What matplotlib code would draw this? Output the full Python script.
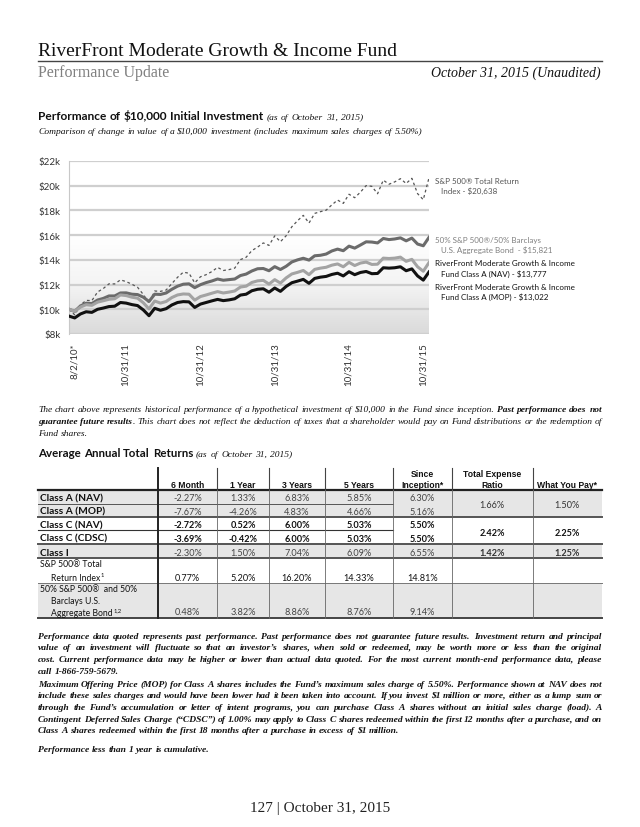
import numpy as np
import matplotlib.pyplot as plt
from matplotlib.colors import LinearSegmentedColormap
from matplotlib.backends.backend_agg import get_hinting_flag

plt.rcParams['text.parse_math'] = False

# growth of $10,000, monthly from 8/2/10 to 10/31/15 (values in $k)
sp500 = [10.00, 9.55, 10.35, 10.72, 10.70, 11.40, 11.68, 12.06, 12.05, 12.38,
         12.24, 12.03, 11.78, 11.20, 10.50, 11.48, 11.45, 11.56, 12.08, 12.59,
         13.00, 12.92, 12.14, 12.63, 12.80, 13.05, 13.39, 13.14, 13.21, 13.33,
         14.02, 14.21, 14.75, 15.03, 15.37, 15.17, 15.94, 15.47, 15.95, 16.68,
         17.17, 17.60, 16.98, 17.76, 17.90, 18.02, 18.45, 18.84, 18.57, 19.31,
         19.03, 19.48, 20.01, 19.95, 19.35, 20.45, 20.12, 20.31, 20.57, 20.18,
         20.60, 19.36, 18.87, 20.64]
blend = [10.00, 9.83, 10.27, 10.49, 10.46, 10.75, 10.88, 11.08, 11.08, 11.32,
         11.33, 11.22, 11.19, 10.98, 10.63, 11.22, 11.20, 11.32, 11.62, 11.87,
         12.03, 12.06, 11.75, 11.99, 12.16, 12.29, 12.45, 12.35, 12.40, 12.45,
         12.73, 12.85, 13.10, 13.28, 13.30, 13.12, 13.45, 13.22, 13.48, 13.83,
         14.00, 14.13, 13.98, 14.33, 14.37, 14.47, 14.72, 14.87, 14.74, 15.11,
         14.95, 15.20, 15.46, 15.44, 15.37, 15.73, 15.64, 15.69, 15.78, 15.54,
         15.76, 15.28, 15.14, 15.82]
fund_nav = [10.00, 9.84, 10.18, 10.37, 10.32, 10.58, 10.69, 10.81, 10.85, 11.16,
            11.11, 10.98, 10.90, 10.53, 10.03, 10.67, 10.50, 10.63, 10.95, 11.16,
            11.24, 11.22, 10.74, 11.03, 11.16, 11.30, 11.43, 11.32, 11.39, 11.48,
            11.80, 11.87, 12.17, 12.30, 12.34, 12.04, 12.40, 12.12, 12.54, 12.86,
            12.99, 13.14, 12.80, 13.23, 13.33, 13.40, 13.57, 13.67, 13.44, 13.80,
            13.54, 13.74, 13.82, 13.63, 13.65, 14.14, 14.11, 14.14, 14.22, 13.88,
            14.04, 13.44, 13.08, 13.78]
fund_mop = [9.45, 9.30, 9.62, 9.80, 9.75, 10.00, 10.10, 10.22, 10.25, 10.55,
            10.50, 10.38, 10.30, 9.95, 9.48, 10.08, 9.92, 10.05, 10.35, 10.55,
            10.62, 10.60, 10.15, 10.42, 10.55, 10.68, 10.80, 10.70, 10.76, 10.85,
            11.15, 11.22, 11.50, 11.62, 11.66, 11.38, 11.72, 11.45, 11.85, 12.15,
            12.28, 12.42, 12.10, 12.50, 12.60, 12.66, 12.82, 12.92, 12.70, 13.04,
            12.80, 12.98, 13.06, 12.88, 12.90, 13.36, 13.33, 13.36, 13.44, 13.12,
            13.27, 12.70, 12.36, 13.02]

date_labels = ['8/2/10*', '10/31/11', '10/31/12', '10/31/13', '10/31/14', '10/31/15']
date_ticks = [1.0, 9.8, 22.9, 36.0, 48.8, 61.9]
y_ticks = [8, 10, 12, 14, 16, 18, 20, 22]

series_labels = ['S&P 500® Total Return\n   Index - $20,638',
                 '50% S&P 500®/50% Barclays\n   U.S. Aggregate Bond  - $15,821',
                 'RiverFront Moderate Growth & Income\n   Fund Class A (NAV) - $13,777',
                 'RiverFront Moderate Growth & Income\n   Fund Class A (MOP) - $13,022']

# table data
row_names = ['Class A (NAV)', 'Class A (MOP)', 'Class C (NAV)', 'Class C (CDSC)', 'Class I']
col_heads = ['6 Month', '1 Year', '3 Years', '5 Years', 'Since\nInception*',
             'Total Expense\nRatio', 'What You Pay*']
six_month = ['-2.27%', '-7.67%', '-2.72%', '-3.69%', '-2.30%', '0.77%', '0.48%']
one_year = ['1.33%', '-4.26%', '0.52%', '-0.42%', '1.50%', '5.20%', '3.82%']
three_years = ['6.83%', '4.83%', '6.00%', '6.00%', '7.04%', '16.20%', '8.86%']
five_years = ['5.85%', '4.66%', '5.03%', '5.03%', '6.09%', '14.33%', '8.76%']
since_inc = ['6.30%', '5.16%', '5.50%', '5.50%', '6.55%', '14.81%', '9.14%']
expense = ['1.66%', '2.42%', '1.42%']
what_pay = ['1.50%', '2.25%', '1.25%']

SERIF = 'Liberation Serif'
SANS = 'Lato'

fig = plt.figure(figsize=(6.4, 8.28), dpi=100)
page = fig.add_axes([0, 0, 1, 1])
page.set_xlim(0, 640)
page.set_ylim(828, 0)
page.axis('off')
R = fig.canvas.get_renderer()


def snap(t, base):
    # keep the glyph baseline of small word pieces on one pixel row
    font = R._prepare_font(t.get_fontproperties())
    font.set_text(t.get_text(), 0, flags=get_hinting_flag())
    w, h = font.get_width_height()
    desc = font.get_descent()
    t.set_y(base + h // 64 - (h - desc) // 64 - desc / 64.0)


def put_runs(x, y, runs, x1=None, justify=False):
    # runs: list of (text, props); places words left to right, optional justify
    words = []
    prev_space = True
    base = round(y)
    for txt, props in runs:
        parts = txt.split(' ')
        for i, w in enumerate(parts):
            if not w:
                continue
            glued = (i == 0 and not prev_space and len(words) > 0)
            t = page.text(0, y, w, va='baseline', ha='left', **props)
            snap(t, base)
            wd = t.get_window_extent(renderer=R).width
            if glued:
                words[-1].append((t, wd))
            else:
                words.append([(t, wd)])
        prev_space = txt.endswith(' ')
    total = sum(wd for word in words for _, wd in word)
    sz = runs[0][1].get('fontsize', 7)
    gap = sz * 100 / 72 * 0.26
    if justify and x1 is not None and len(words) > 1:
        gap = (x1 - x - total) / (len(words) - 1)
    for word in words:
        for t, wd in word:
            t.set_x(x)
            x += wd
        x += gap
    return x


def with_sup(x, y, txt, sup, props, sup_size=4.2):
    t = page.text(x, y, txt, va='baseline', ha='left', **props)
    wd = t.get_window_extent(renderer=R).width
    page.text(x + wd + 0.5, y - 3.5, sup, va='baseline', ha='left',
              family=props['family'], fontsize=sup_size, color=props['color'])


# ---- page header
page.text(38, 56, 'RiverFront Moderate Growth & Income Fund', family=SERIF,
          fontsize=14, color='#111', va='baseline')
page.plot([38, 602], [62, 62], color='#444', lw=1)
page.text(38, 77, 'Performance Update', family=SERIF, fontsize=11.5,
          color='#808080', va='baseline')
page.text(601, 77, 'October 31, 2015 (Unaudited)', family=SERIF, style='italic',
          fontsize=10, color='#111', va='baseline', ha='right')

bold_sans = dict(family=SANS, weight='bold', fontsize=8.6, color='#111')
ital = dict(family=SERIF, style='italic', fontsize=6.8, color='#111')
ital_b = dict(family=SERIF, style='italic', weight='bold', fontsize=6.8, color='#111')

put_runs(38, 120, [('Performance of $10,000 Initial Investment ', bold_sans),
                   ('(as of October 31, 2015)', ital)])
put_runs(38, 134, [('Comparison of change in value of a $10,000 investment '
                    '(includes maximum sales charges of 5.50%)', ital)])

# ---- chart
ax = fig.add_axes([69 / 640, 1 - 335 / 828, (429 - 69) / 640, (335 - 162) / 828])
months = np.arange(len(sp500))
grad = np.linspace(1, 0, 100).reshape(-1, 1)
cmap = LinearSegmentedColormap.from_list('bg', ['#ffffff', '#f4f4f4', '#dadada'])
ax.imshow(grad, extent=[0, months[-1], 8, 16], aspect='auto', cmap=cmap,
          zorder=0, origin='lower', vmin=0, vmax=1)
for v in y_ticks:
    ax.axhline(v, color='#cfcfcf', lw=1.6, zorder=1)
ax.plot(months, sp500, color='#555555', lw=0.9, ls=(0, (2.2, 2.2)), zorder=3)
ax.plot(months, blend, color='#6b6b6b', lw=2.2, zorder=4)
ax.plot(months, fund_nav, color='#a3a3a3', lw=2.2, zorder=5)
ax.plot(months, fund_mop, color='#111111', lw=2.2, zorder=6)
ax.set_xlim(0, months[-1])
ax.set_ylim(8, 22)
ax.set_yticks(y_ticks)
ax.set_yticklabels(['$%dk' % v for v in y_ticks], family=SANS, fontsize=7, color='#333')
ax.set_xticks(date_ticks)
ax.set_xticklabels(date_labels, rotation=90, family=SANS, fontsize=7, color='#333',
                   va='top', ha='center')
ax.tick_params(length=0, pad=6)
for s in ['top', 'right', 'bottom']:
    ax.spines[s].set_visible(False)
ax.spines['left'].set_color('#c8c8c8')
ax.set_facecolor('none')

label_y = [180.7, 240.0, 263.3, 286.7]
label_c = ['#555555', '#808080', '#111111', '#111111']
for txt, yy, cc in zip(series_labels, label_y, label_c):
    page.text(435, yy - 3, txt, family=SANS, fontsize=5.8, color=cc, va='top',
              linespacing=1.45)

# ---- paragraph under chart
put_runs(38, 412, [('The chart above represents historical performance of a hypothetical '
                    'investment of $10,000 in the Fund since inception.', ital),
                   (' Past performance does not', ital_b)], x1=602, justify=True)
put_runs(38, 424, [('guarantee future results', ital_b),
                   ('. This chart does not reflect the deduction of taxes that a shareholder '
                    'would pay on Fund distributions or the redemption of', ital)],
         x1=602, justify=True)
put_runs(38, 436, [('Fund shares.', ital)])

put_runs(38, 457, [('Average Annual Total Returns ', dict(bold_sans, fontsize=8.3)),
                   ('(as of October 31, 2015)', ital)])

# ---- table
col_x = [158.3, 217.3, 269, 325, 393.3, 451.7, 532.7, 601.7]
row_y = [491.3, 504.7, 518, 531.3, 545.3, 559.3, 583.7, 618.7]
top_y = 468.7
shade = '#e6e6e6'
for i, fill in enumerate([True, True, False, False, True, False, True]):
    if fill:
        page.fill_between([38, 601.7], row_y[i], row_y[i + 1], color=shade, lw=0, zorder=0)

cx = [(a + b) / 2 for a, b in zip(col_x[:-1], col_x[1:])]
hdr = dict(family='Liberation Sans', weight='bold', fontsize=6.2, color='#111')
for c, h in zip(cx, col_heads):
    page.text(c, 488, h, ha='center', va='baseline', linespacing=1.3, **hdr)

cols = [six_month, one_year, three_years, five_years, since_inc]
row_text_y = [501.5, 514.8, 528.2, 541.8, 555.8, 581, 615.5]
for r in range(7):
    if r in (2, 3):
        props = dict(weight='bold', color='#111')
    elif r == 5:
        props = dict(weight='normal', color='#111')
    else:
        props = dict(weight='normal', color='#444')
    for c in range(5):
        page.text(cx[c], row_text_y[r], cols[c][r], ha='center', va='baseline',
                  family=SANS, fontsize=6.6, **props)

merged_y = [508.3, 535.8, 555.8]
for k in range(3):
    cc = '#111' if k == 1 else '#333'
    page.text(cx[5], merged_y[k], expense[k], ha='center', va='baseline', family=SANS,
              fontsize=6.6, weight='bold' if k != 0 else 'normal', color=cc)
    page.text(cx[6], merged_y[k], what_pay[k], ha='center', va='baseline', family=SANS,
              fontsize=6.6, weight='bold' if k != 0 else 'normal', color=cc)

lab = dict(family=SANS, fontsize=7.3, weight='bold', color='#111')
for r, name in enumerate(row_names):
    page.text(40, row_text_y[r], name, ha='left', va='baseline', **lab)
small = dict(family=SANS, fontsize=6.2, color='#111')
page.text(40, 567, 'S&P 500® Total', va='baseline', **small)
with_sup(51, 581, 'Return Index', '1', small)
page.text(40, 592, '50% S&P 500®  and 50%', va='baseline', **small)
page.text(51, 604, 'Barclays U.S.', va='baseline', **small)
with_sup(51, 616, 'Aggregate Bond', '1,2', small)

# table rules
page.plot([38, 601.7], [row_y[0], row_y[0]], color='#222', lw=1.6)
page.plot([158.3, 393.3], [row_y[1], row_y[1]], color='#555', lw=0.7)
page.plot([38, 158.3], [row_y[1], row_y[1]], color='#555', lw=0.7)
page.plot([38, 601.7], [row_y[2], row_y[2]], color='#555', lw=1.4)
page.plot([38, 393.3], [row_y[3], row_y[3]], color='#333', lw=0.8)
page.plot([38, 601.7], [row_y[4], row_y[4]], color='#555', lw=1.4)
page.plot([38, 601.7], [row_y[5], row_y[5]], color='#555', lw=1.4)
page.plot([38, 601.7], [row_y[6], row_y[6]], color='#777', lw=0.7)
page.plot([38, 601.7], [row_y[7], row_y[7]], color='#444', lw=1.4)
page.plot([col_x[0], col_x[0]], [top_y, row_y[7]], color='#222', lw=1.4)
for xv in col_x[1:-1]:
    page.plot([xv, xv], [top_y, row_y[0]], color='#444', lw=0.8)
    page.plot([xv, xv], [row_y[0], row_y[7]], color='#666', lw=0.6)

# ---- notes
notes2 = ['Performance data quoted represents past performance. Past performance does not '
          'guarantee future results. Investment return and principal',
          'value of an investment will fluctuate so that an investor\u2019s shares, when sold or '
          'redeemed, may be worth more or less than the original',
          'cost. Current performance data may be higher or lower than actual data quoted. For '
          'the most current month-end performance data, please',
          'call 1-866-759-5679.']
notes3 = ['Maximum Offering Price (MOP) for Class A shares includes the Fund\u2019s maximum sales '
          'charge of 5.50%. Performance shown at NAV does not',
          'include these sales charges and would have been lower had it been taken into account. '
          'If you invest $1 million or more, either as a lump sum or',
          'through the Fund\u2019s accumulation or letter of intent programs, you can purchase '
          'Class A shares without an initial sales charge (load). A',
          'Contingent Deferred Sales Charge (\u201cCDSC\u201d) of 1.00% may apply to Class C shares '
          'redeemed within the first 12 months after a purchase, and on',
          'Class A shares redeemed within the first 18 months after a purchase in excess of '
          '$1 million.']
for i, ln in enumerate(notes2):
    put_runs(38, 639 + 11.5 * i, [(ln, ital_b)], x1=602, justify=i < len(notes2) - 1)
for i, ln in enumerate(notes3):
    put_runs(38, 687 + 11.5 * i, [(ln, ital_b)], x1=602, justify=i < len(notes3) - 1)
put_runs(38, 752, [('Performance less than 1 year is cumulative.', ital_b)])

page.text(320, 812, '127 | October 31, 2015', family=SERIF, fontsize=11, color='#222',
          ha='center', va='baseline')

fig.savefig('out.png', dpi=100)
